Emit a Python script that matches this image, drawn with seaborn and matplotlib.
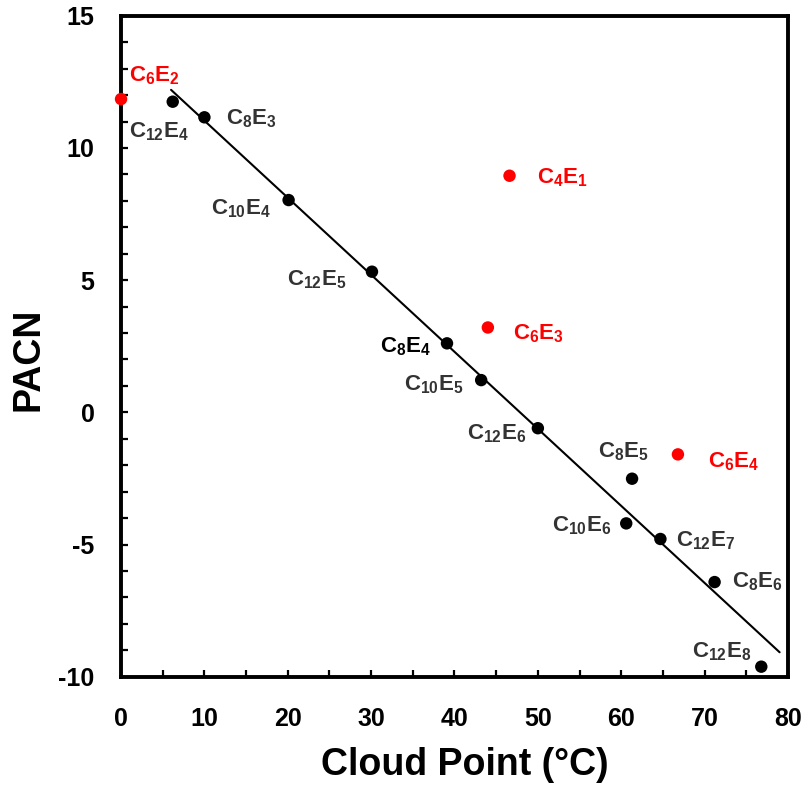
import numpy as np
import pandas as pd
import matplotlib
matplotlib.use("Agg")
import matplotlib.pyplot as plt
import seaborn as sns
from matplotlib.ticker import MultipleLocator

# ---------------------------------------------------
# Data: cloud point (°C) vs PACN for CiEj surfactants
# ---------------------------------------------------
names = ["C12E4", "C8E3", "C10E4", "C12E5", "C8E4", "C10E5", "C12E6",
         "C8E5", "C10E6", "C12E7", "C8E6", "C12E8",
         "C6E2", "C4E1", "C6E3", "C6E4"]
cloud_point = [6.2, 10.0, 20.1, 30.1, 39.1, 43.2, 50.0,
               61.3, 60.6, 64.7, 71.2, 76.8,
               0.0, 46.6, 44.0, 66.8]
pacn = [11.75, 11.16, 8.03, 5.32, 2.61, 1.22, -0.6,
        -2.51, -4.2, -4.79, -6.42, -9.62,
        11.85, 8.95, 3.21, -1.59]
group = ["fit"] * 12 + ["outlier"] * 4

# range covered by the trend line
trend_range = [6.0, 79.0]

df = pd.DataFrame({"name": names, "cp": cloud_point, "pacn": pacn, "group": group})

# label offsets (pixels, dx right / dy down) and alignment
label_style = {
    "C12E4": (-14, 30, "center"), "C8E3": (22, 1, "left"),
    "C10E4": (-18, 9, "right"), "C12E5": (-25, 8, "right"),
    "C8E4": (-16, 3, "right"), "C10E5": (-18, 5, "right"),
    "C12E6": (-11, 5, "right"), "C8E5": (-9, -27, "center"),
    "C10E6": (-15, 2, "right"), "C12E7": (16, 2, "left"),
    "C8E6": (17, 0, "left"), "C12E8": (-10, -15, "right"),
    "C6E2": (8, -23, "left"), "C4E1": (27, 2, "left"),
    "C6E3": (25, 6, "left"), "C6E4": (30, 7, "left"),
}

# ---------------------------------------------------
# Plot
# ---------------------------------------------------
sns.set_style("white")
plt.rcParams["font.family"] = ["Liberation Sans", "DejaVu Sans"]
plt.rcParams["font.weight"] = "bold"
plt.rcParams["mathtext.fontset"] = "custom"
plt.rcParams["mathtext.bf"] = "Liberation Sans:bold"
plt.rcParams["mathtext.rm"] = "Liberation Sans:bold"
plt.rcParams["axes.unicode_minus"] = False
for key in ["text.color", "axes.labelcolor", "xtick.color", "ytick.color"]:
    plt.rcParams[key] = "black"

fig = plt.figure(figsize=(8.08, 7.89), dpi=100)
ax = fig.add_axes([0.1498, 0.1423, 0.9752 - 0.1498, 0.980 - 0.1423])

fit = df[df["group"] == "fit"]
coef = np.polyfit(fit["cp"], fit["pacn"], 1)
line_df = pd.DataFrame({"cp": trend_range, "pacn": np.polyval(coef, trend_range)})
sns.lineplot(data=line_df, x="cp", y="pacn", color="black", linewidth=1.5, ax=ax)

sns.scatterplot(data=df, x="cp", y="pacn", hue="group",
                palette={"fit": "black", "outlier": "#ff0000"},
                s=80, linewidth=0, legend=False, ax=ax, clip_on=False, zorder=3)

for _, row in df.iterrows():
    dx, dy, ha = label_style[row["name"]]
    n = row["name"]
    c_num = n[1:n.index("E")]
    e_num = n[n.index("E") + 1:]
    txt = r"$\mathbf{C_{%s}E_{%s}}$" % (c_num, e_num)
    if row["group"] == "outlier":
        col = "#ff0000"
    elif n == "C8E4":
        col = "black"
    else:
        col = "#333333"
    ax.annotate(txt, (row["cp"], row["pacn"]), xytext=(dx * 0.72, -dy * 0.72),
                textcoords="offset points", ha=ha, va="center",
                fontsize=16, color=col)

ax.set_xlim(0, 80)
ax.set_ylim(-10, 15)
ax.xaxis.set_major_locator(MultipleLocator(10))
ax.xaxis.set_minor_locator(MultipleLocator(5))
ax.yaxis.set_major_locator(MultipleLocator(5))
ax.yaxis.set_minor_locator(MultipleLocator(1))
ax.tick_params(which="both", direction="in", length=5, width=1.6,
               top=False, right=False, bottom=True, left=True)
ax.tick_params(axis="x", which="major", labelsize=18, pad=22)
ax.tick_params(axis="y", which="major", labelsize=18, pad=19)
for lab in ax.get_xticklabels() + ax.get_yticklabels():
    lab.set_fontweight("bold")
for sp in ax.spines.values():
    sp.set_linewidth(2.8)
    sp.set_color("black")

ax.set_xlabel("Cloud Point (°C)", fontsize=27, fontweight="bold")
ax.set_ylabel("PACN", fontsize=27, fontweight="bold")
ax.xaxis.set_label_coords(0.515, -0.107)
ax.yaxis.set_label_coords(-0.1125, 0.480)

fig.savefig("out.png", dpi=100)
